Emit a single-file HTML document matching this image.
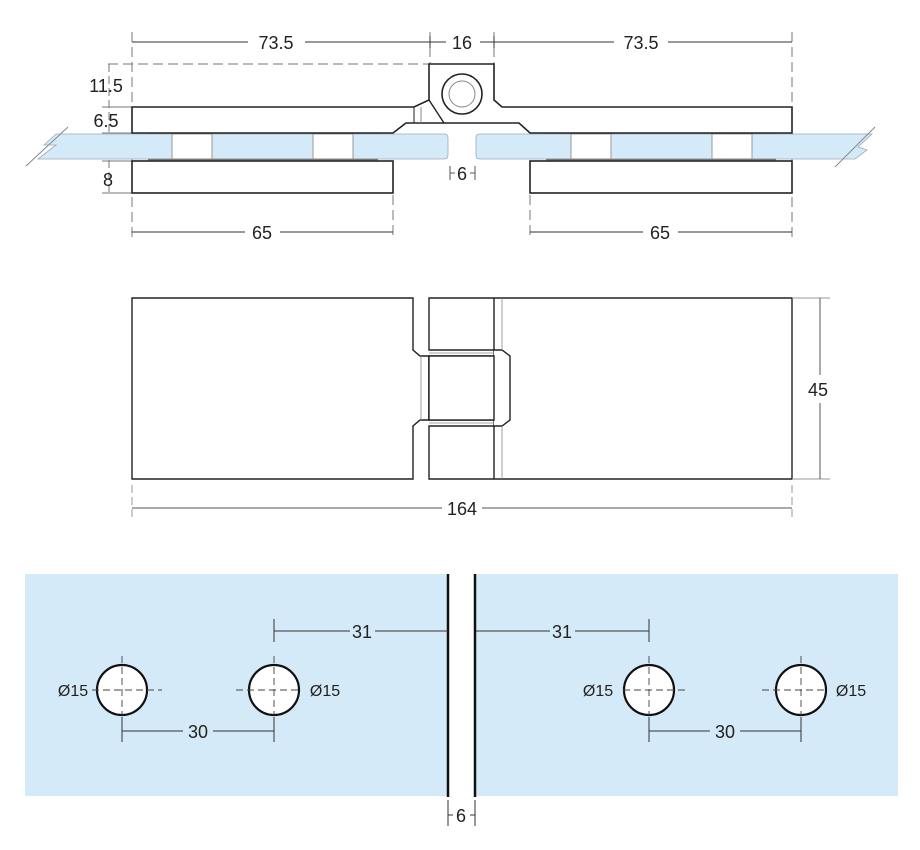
<!DOCTYPE html>
<html><head><meta charset="utf-8"><style>
html,body{margin:0;padding:0;background:#fff;}
svg{display:block;font-family:"Liberation Sans",Arial,sans-serif;}
</style></head><body>
<svg width="920" height="850" viewBox="0 0 920 850" xmlns="http://www.w3.org/2000/svg">
<g fill="none" stroke="#333" stroke-width="1">
<g stroke="#777" stroke-dasharray="10,5">
<line x1="132" y1="32" x2="132" y2="240"/>
<line x1="792" y1="32" x2="792" y2="240"/>
<line x1="393" y1="165" x2="393" y2="240"/>
<line x1="530" y1="165" x2="530" y2="240"/>
<line x1="430" y1="32" x2="430" y2="64"/>
<line x1="494" y1="32" x2="494" y2="64"/>
<line x1="108" y1="64" x2="430" y2="64"/>
</g>
<line x1="132" y1="42" x2="248" y2="42"/><line x1="305" y1="42" x2="430" y2="42"/>
<line x1="430" y1="42" x2="446" y2="42"/><line x1="480" y1="42" x2="494" y2="42"/>
<line x1="494" y1="42" x2="614" y2="42"/><line x1="668" y1="42" x2="792" y2="42"/>
<line x1="430" y1="36" x2="430" y2="48"/><line x1="494" y1="36" x2="494" y2="48"/>
<line x1="132" y1="232" x2="245" y2="232"/><line x1="280" y1="232" x2="393" y2="232"/>
<line x1="530" y1="232" x2="643" y2="232"/><line x1="678" y1="232" x2="792" y2="232"/>
<line x1="109" y1="64" x2="109" y2="193" stroke="#777" stroke-dasharray="8,4"/>
<line x1="102" y1="107" x2="132" y2="107" stroke="#777"/>
<line x1="102" y1="133" x2="132" y2="133" stroke="#777"/>
<line x1="102" y1="161" x2="132" y2="161" stroke="#777"/>
<line x1="102" y1="193" x2="132" y2="193" stroke="#777"/>
</g>
<g font-size="18" fill="#222" text-anchor="middle">
<text x="276" y="49">73.5</text><text x="462" y="49">16</text><text x="641" y="49">73.5</text>
<text x="106" y="92">11.5</text><text x="106" y="127">6.5</text><text x="108" y="186">8</text>
<text x="262" y="239">65</text><text x="660" y="239">65</text>
<text x="462" y="180">6</text>
</g>
<line x1="450" y1="166" x2="450" y2="180" stroke="#555"/><line x1="450" y1="173" x2="455" y2="173" stroke="#555"/>
<line x1="475" y1="166" x2="475" y2="180" stroke="#555"/><line x1="470" y1="173" x2="475" y2="173" stroke="#555"/>
<!-- glass top -->
<path d="M56,134 L444,134 Q448,134 448,138 L448,155 Q448,159 444,159 L38,159 L56,145 L44,145 Z" fill="#d4eaf9" stroke="#9ab" stroke-width="0.8"/>
<line x1="26" y1="166" x2="68" y2="127" stroke="#888"/>
<path d="M480,134 L872,134 L858,147 L867,150 L855,159 L480,159 Q476,159 476,155 L476,138 Q476,134 480,134 Z" fill="#d4eaf9" stroke="#9ab" stroke-width="0.8"/>
<line x1="835" y1="167" x2="875" y2="127" stroke="#888"/>
<g fill="#fff" stroke="#999">
<rect x="172" y="134" width="40" height="25"/><rect x="313" y="134" width="40" height="25"/>
<rect x="571" y="134" width="40" height="25"/><rect x="712" y="134" width="40" height="25"/>
</g>
<g stroke="#777" stroke-width="1.5">
<line x1="148" y1="133" x2="380" y2="133"/><line x1="148" y1="159.5" x2="378" y2="159.5"/>
<line x1="546" y1="133" x2="776" y2="133"/><line x1="546" y1="159.5" x2="776" y2="159.5"/>
</g>
<g fill="#fff" stroke="#222" stroke-width="1.6">
<path d="M132,107 L414,107 L429,100 L429,64 L494,64 L494,100 L502,107 L792,107 L792,133 L530,133 L519,123 L406,123 L393,133 L132,133 Z"/>
<rect x="132" y="161" width="261" height="32"/>
<rect x="530" y="161" width="262" height="32"/>
</g>
<g stroke="#222" fill="none">
<line x1="429" y1="100" x2="444" y2="123" stroke-width="1.4"/>
<line x1="414" y1="107" x2="414" y2="123"/><line x1="421" y1="107" x2="421" y2="123" stroke="#888"/>
<circle cx="462" cy="94" r="20" stroke-width="1.6"/>
<circle cx="462" cy="94" r="13" stroke="#888"/>
</g>
<g fill="#fff" stroke="#222" stroke-width="1.4">
<path d="M132,298 L413,298 L413,350 L420,356 L429,356 L429,420 L420,420 L413,426 L413,479 L132,479 Z"/>
<path d="M429,298 L792,298 L792,479 L429,479 L429,426 L494,426 L494,420 L429,420 L429,356 L494,356 L494,350 L429,350 Z"/>
<path d="M494,350 L502,350 L510,356 L510,420 L502,426 L494,426"/>
<line x1="494" y1="298" x2="494" y2="350"/><line x1="494" y1="426" x2="494" y2="479"/>
<rect x="429" y="356" width="65" height="64"/>
</g>
<g stroke="#888" stroke-width="0.8" fill="none">
<line x1="502" y1="298" x2="502" y2="350"/><line x1="502" y1="426" x2="502" y2="479"/>
<line x1="421" y1="356" x2="421" y2="420"/>
<line x1="429" y1="353" x2="494" y2="353"/><line x1="429" y1="423" x2="494" y2="423"/>
</g>
<g stroke="#555" fill="none">
<line x1="792" y1="298" x2="830" y2="298" stroke="#999"/><line x1="792" y1="479" x2="830" y2="479" stroke="#999"/>
<line x1="820" y1="298" x2="820" y2="375"/><line x1="820" y1="403" x2="820" y2="479"/>
<line x1="132" y1="485" x2="132" y2="518" stroke="#999" stroke-dasharray="8,4"/>
<line x1="792" y1="485" x2="792" y2="518" stroke="#999" stroke-dasharray="8,4"/>
<line x1="132" y1="508" x2="442" y2="508"/><line x1="482" y1="508" x2="792" y2="508"/>
</g>
<g font-size="18" fill="#222" text-anchor="middle">
<text x="818" y="396">45</text><text x="462" y="515">164</text>
</g>
<rect x="25" y="574" width="422" height="222" fill="#d4eaf9"/>
<rect x="476" y="574" width="422" height="222" fill="#d4eaf9"/>
<g stroke="#111" stroke-width="2.5">
<line x1="448" y1="574" x2="448" y2="797"/><line x1="475" y1="574" x2="475" y2="797"/>
</g>
<g stroke="#333" stroke-width="1">
<line x1="448" y1="800" x2="448" y2="826"/><line x1="475" y1="800" x2="475" y2="826"/>
<line x1="448" y1="815" x2="453" y2="815"/><line x1="470" y1="815" x2="475" y2="815"/>
<line x1="274" y1="619" x2="274" y2="642"/><line x1="274" y1="631" x2="350" y2="631"/><line x1="375" y1="631" x2="448" y2="631"/>
<line x1="649" y1="619" x2="649" y2="642"/><line x1="476" y1="631" x2="550" y2="631"/><line x1="575" y1="631" x2="649" y2="631"/>
<line x1="122" y1="717" x2="122" y2="742"/><line x1="274" y1="717" x2="274" y2="742"/>
<line x1="122" y1="731" x2="183" y2="731"/><line x1="213" y1="731" x2="274" y2="731"/>
<line x1="649" y1="717" x2="649" y2="742"/><line x1="801" y1="717" x2="801" y2="742"/>
<line x1="649" y1="731" x2="710" y2="731"/><line x1="740" y1="731" x2="801" y2="731"/>
</g>
<g fill="#fff" stroke="#111" stroke-width="2.2">
<circle cx="122" cy="690" r="25"/><circle cx="274" cy="690" r="25"/>
<circle cx="649" cy="690" r="25"/><circle cx="801" cy="690" r="25"/>
</g>
<g stroke="#444" stroke-width="0.9" stroke-dasharray="7,4">
<line x1="92" y1="690" x2="162" y2="690"/><line x1="122" y1="656" x2="122" y2="715"/>
<line x1="236" y1="690" x2="300" y2="690"/><line x1="274" y1="656" x2="274" y2="715"/>
<line x1="623" y1="690" x2="688" y2="690"/><line x1="649" y1="656" x2="649" y2="715"/>
<line x1="762" y1="690" x2="828" y2="690"/><line x1="801" y1="656" x2="801" y2="715"/>
</g>
<g font-size="18" fill="#222" text-anchor="middle">
<text x="362" y="638">31</text><text x="562" y="638">31</text>
<text x="198" y="738">30</text><text x="725" y="738">30</text>
<text x="461" y="822">6</text>
</g>
<g font-size="16" fill="#222" text-anchor="middle">
<text x="73" y="696">Ø15</text><text x="325" y="696">Ø15</text>
<text x="598" y="696">Ø15</text><text x="851" y="696">Ø15</text>
</g>
</svg>
</body></html>
